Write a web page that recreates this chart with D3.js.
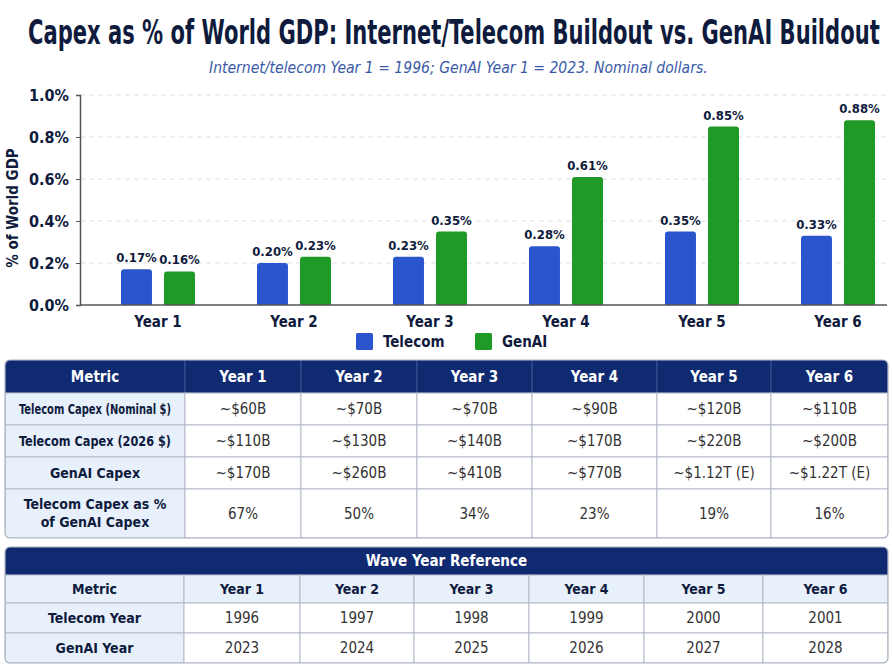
<!DOCTYPE html>
<html>
<head>
<meta charset="utf-8">
<script src="https://cdn.jsdelivr.net/npm/d3@7"></script>
<style>
  body { margin: 0; background: #fff; }
  svg { display: block; }
  text { font-family: "Liberation Sans Narrow", "DejaVu Sans Condensed", "Roboto", sans-serif; font-stretch: condensed; }
</style>
</head>
<body>
<div id="chart"></div>
<script>
// data
var years = ["Year 1", "Year 2", "Year 3", "Year 4", "Year 5", "Year 6"];
var series = ["Telecom", "GenAI"];
var telecomPct = [0.17, 0.20, 0.23, 0.28, 0.35, 0.33];
var genaiPct = [0.16, 0.23, 0.35, 0.61, 0.85, 0.88];
var yTicks = [0, 0.2, 0.4, 0.6, 0.8, 1.0];

var tableHead = ["Metric"].concat(years);
var metricNames = ["Telecom Capex (Nominal $)", "Telecom Capex (2026 $)", "GenAI Capex", "Telecom Capex as %\nof GenAI Capex"];
var telecomNominal = ["~$60B", "~$70B", "~$70B", "~$90B", "~$120B", "~$110B"];
var telecom2026 = ["~$110B", "~$130B", "~$140B", "~$170B", "~$220B", "~$200B"];
var genaiCapex = ["~$170B", "~$260B", "~$410B", "~$770B", "~$1.12T (E)", "~$1.22T (E)"];
var telecomShare = ["67%", "50%", "34%", "23%", "19%", "16%"];

var waveNames = ["Telecom Year", "GenAI Year"];
var telecomYears = ["1996", "1997", "1998", "1999", "2000", "2001"];
var genaiYears = ["2023", "2024", "2025", "2026", "2027", "2028"];

var W = 892, H = 670;
var navy = "#0f1b3d", headBg = "#102a72", lightBg = "#e7f0fb", gridCol = "#b3bac8";
var colors = {"Telecom": "#2a55cc", "GenAI": "#1f9a27"};

var svg = d3.select("#chart").append("svg")
    .attr("width", W)
    .attr("height", H);

// squeeze a text horizontally so it spans exactly `w` px from x
function fitText(sel, x, yPos, w) {
    var len = sel.node().getComputedTextLength();
    sel.attr("transform", "translate(" + x + "," + yPos + ") scale(" + (w / len) + ",1)");
}

// titel
var title = svg.append("text")
    .style("font-size", "33px").style("font-weight", "bold")
    .style("fill", navy)
    .text("Capex as % of World GDP: Internet/Telecom Buildout vs. GenAI Buildout");
fitText(title, 28, 44, 852);

var sub = svg.append("text")
    .style("font-size", "16px").style("font-style", "italic")
    .style("fill", "#3a5aa8")
    .text("Internet/telecom Year 1 = 1996; GenAI Year 1 = 2023. Nominal dollars.");
fitText(sub, 209, 73, 499);

// bar chart
var y = d3.scaleLinear().domain([0, 1.0]).range([305, 95]);
var x0 = d3.scaleBand().domain(years).range([90, 906]);
var x1 = d3.scaleBand().domain(series).range([-37, 37]).paddingInner(0.28);

// dashed grid
svg.append("g")
    .selectAll("line")
    .data(yTicks.filter(function(d){ return d > 0 }))
    .enter()
    .append("line")
    .attr("x1", 80).attr("x2", 887)
    .attr("y1", function(d){ return y(d) }).attr("y2", function(d){ return y(d) })
    .attr("stroke", "#dcdfe4")
    .attr("stroke-dasharray", "5,4");

var yAxis = svg.append("g")
    .attr("transform", "translate(80,0)")
    .call(d3.axisLeft(y).tickValues(yTicks).tickSize(4).tickPadding(7)
        .tickFormat(function(d){ return d.toFixed(1) + "%" }));
yAxis.select(".domain").attr("stroke", "#555").attr("stroke-width", 1.5);
yAxis.selectAll(".tick line").attr("stroke", "#555");
yAxis.selectAll("text")
    .style("font-size", "16px").style("font-weight", "bold")
    .style("fill", navy)
    .style("font-family", "'Liberation Sans Narrow', 'DejaVu Sans Condensed', sans-serif");

svg.append("text")
    .attr("transform", "translate(18,208) rotate(-90)")
    .attr("text-anchor", "middle")
    .style("font-size", "15px").style("font-weight", "bold")
    .style("fill", navy)
    .text("% of World GDP");

var rows = years.map(function(yr, i){
    return {year: yr, vals: [{s: "Telecom", v: telecomPct[i]}, {s: "GenAI", v: genaiPct[i]}]};
});

// top-rounded bar path
function barPath(x, top, w, bottom, r) {
    return "M" + x + "," + bottom +
        "V" + (top + r) +
        "Q" + x + "," + top + " " + (x + r) + "," + top +
        "H" + (x + w - r) +
        "Q" + (x + w) + "," + top + " " + (x + w) + "," + (top + r) +
        "V" + bottom + "Z";
}

var groups = svg.append("g").selectAll("g")
    .data(rows)
    .enter()
    .append("g")
    .attr("transform", function(d){ return "translate(" + (x0(d.year) + x0.bandwidth()/2) + ",0)" });

groups.selectAll("path")
    .data(function(d){ return d.vals })
    .enter()
    .append("path")
    .attr("d", function(d){ return barPath(x1(d.s), y(d.v), x1.bandwidth(), y(0), 3) })
    .attr("fill", function(d){ return colors[d.s] });

groups.selectAll("text.val")
    .data(function(d){ return d.vals })
    .enter()
    .append("text")
    .attr("class", "val")
    .attr("x", function(d){ return x1(d.s) + x1.bandwidth()/2 })
    .attr("y", function(d){ return y(d.v) - 7 })
    .attr("text-anchor", "middle")
    .style("font-size", "13px").style("font-weight", "bold")
    .style("fill", navy)
    .text(function(d){ return d.v.toFixed(2) + "%" });

// x baseline + labels
svg.append("line")
    .attr("x1", 80).attr("x2", 887)
    .attr("y1", y(0)).attr("y2", y(0))
    .attr("stroke", "#555").attr("stroke-width", 1.5);

svg.append("g").selectAll("text")
    .data(years)
    .enter()
    .append("text")
    .attr("x", function(d){ return x0(d) + x0.bandwidth()/2 })
    .attr("y", 327)
    .attr("text-anchor", "middle")
    .style("font-size", "15px").style("font-weight", "bold")
    .style("fill", navy)
    .text(function(d){ return d });

// legend
var legend = svg.append("g").selectAll("g")
    .data(series)
    .enter()
    .append("g")
    .attr("transform", function(d, i){ return "translate(" + (356 + i*119) + ",333)" });
legend.append("rect")
    .attr("width", 17).attr("height", 17).attr("rx", 1.5)
    .attr("fill", function(d){ return colors[d] });
legend.append("text")
    .attr("x", 27).attr("y", 14)
    .style("font-size", "15px").style("font-weight", "bold")
    .style("fill", navy)
    .text(function(d){ return d });

/* ---- tables ---- */
function drawTable(cfg) {
    var g = svg.append("g");
    var cols = cfg.cols, rowsY = cfg.rowsY;
    var x0t = cols[0], x1t = cols[cols.length-1];
    var y0t = rowsY[0], y1t = rowsY[rowsY.length-1];

    var clipId = "clip" + cfg.id;
    g.append("clipPath").attr("id", clipId)
        .append("rect")
        .attr("x", x0t).attr("y", y0t)
        .attr("width", x1t - x0t).attr("height", y1t - y0t).attr("rx", 5);

    var body = g.append("g").attr("clip-path", "url(#" + clipId + ")");

    cfg.cells.forEach(function(row, ri){
        row.forEach(function(cell, ci){
            var xa = cols[ci], xb = cell.span ? x1t : cols[ci+1];
            var ya = rowsY[ri], yb = rowsY[ri+1];
            body.append("rect")
                .attr("x", xa).attr("y", ya)
                .attr("width", xb - xa).attr("height", yb - ya)
                .attr("fill", cell.bg)
                .attr("stroke", cell.bg === headBg ? "#3c5290" : gridCol)
                .attr("stroke-width", 1);
            var lines = cell.t.split("\n");
            var t = body.append("text")
                .attr("text-anchor", "middle")
                .style("font-size", cell.fs + "px")
                .style("font-weight", cell.bold ? "bold" : "normal")
                .style("fill", cell.fill);
            var mid = (ya + yb)/2 + cell.fs*0.35;
            var maxW = (xb - xa) - 28;
            lines.forEach(function(l, li){
                var ts = t.append("tspan")
                    .attr("x", (xa + xb)/2)
                    .attr("y", mid + (li - (lines.length-1)/2) * 18)
                    .text(l);
                // squeeze long labels so they stay inside the cell
                if (ts.node().getComputedTextLength() > maxW) {
                    ts.attr("textLength", maxW).attr("lengthAdjust", "spacingAndGlyphs");
                }
            });
        });
    });

    g.append("rect")
        .attr("x", x0t).attr("y", y0t)
        .attr("width", x1t - x0t).attr("height", y1t - y0t).attr("rx", 5)
        .attr("fill", "none").attr("stroke", "#a9b1c0").attr("stroke-width", 1.2);
}

function headCell(t){ return {t: t, bg: headBg, fill: "#fff", bold: true, fs: 15} }
function nameCell(t){ return {t: t, bg: lightBg, fill: navy, bold: true, fs: 14} }
function valCell(t){ return {t: t, bg: "#fff", fill: "#333", bold: false, fs: 15} }

var t1cells = [tableHead.map(headCell)];
[telecomNominal, telecom2026, genaiCapex, telecomShare].forEach(function(arr, i){
    t1cells.push([nameCell(metricNames[i])].concat(arr.map(valCell)));
});

drawTable({
    id: 1,
    cols: [5, 185, 301, 417, 532, 657, 771, 888],
    rowsY: [360, 393, 425, 457, 489, 538],
    cells: t1cells
});

var t2cells = [
    [{t: "Wave Year Reference", bg: headBg, fill: "#fff", bold: true, fs: 15, span: true}],
    tableHead.map(nameCell)
];
[telecomYears, genaiYears].forEach(function(arr, i){
    t2cells.push([nameCell(waveNames[i])].concat(arr.map(valCell)));
});

drawTable({
    id: 2,
    cols: [5, 184, 300, 414, 529, 644, 763, 888],
    rowsY: [547, 575, 603, 633, 663],
    cells: t2cells
});
</script>
</body>
</html>
